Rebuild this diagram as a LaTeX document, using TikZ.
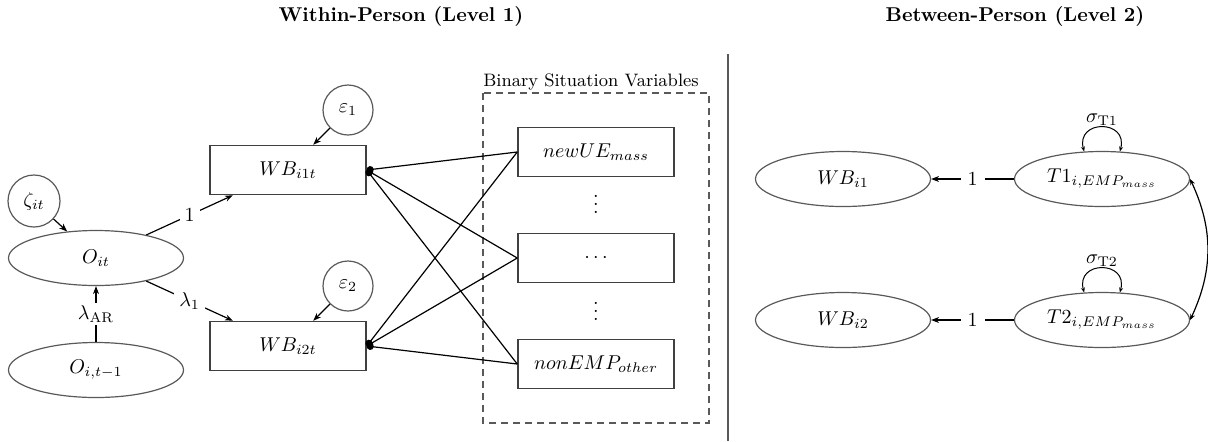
\documentclass[tikz,border=0pt]{standalone}
\usetikzlibrary{shapes.geometric, arrows.meta}
\begin{document}
\begin{tikzpicture}[x=0.5pt, y=0.5pt,
  latent/.style={ellipse, draw=black!65, line width=0.6pt, minimum width=87.5pt, minimum height=27.5pt, inner sep=0pt},
  manifest/.style={rectangle, draw=black!75, line width=0.75pt, minimum width=78pt, minimum height=24.5pt, inner sep=0pt},
  errvar/.style={circle, draw=black!65, line width=0.6pt, minimum size=25pt, inner sep=0pt},
  regpath/.style={-{Stealth[length=4pt,width=3pt]}, line width=0.6pt},
  coef/.style={fill=white, inner sep=2.5pt},
  tie/.style={-{Circle[length=3.5pt]}, line width=0.6pt},
  cov/.style={{Stealth[length=3pt,width=2.5pt]}-{Stealth[length=3pt,width=2.5pt]}, line width=0.6pt},
  selfloop/.style={{Stealth[length=2.5pt,width=2pt]}-{Stealth[length=2.5pt,width=2pt]}, line width=0.5pt},
  groupbox/.style={draw=black!65, line width=0.6pt, dash pattern=on 3.5pt off 2.5pt},
]
\useasboundingbox (0,0) rectangle (1208,-441);

% panel titles and divider
\node[font=\bfseries] (titleW) at (401,-16) {Within-Person (Level 1)};
\node[font=\bfseries] (titleB) at (1015,-16) {Between-Person (Level 2)};
\coordinate (divtop) at (728,-54);
\coordinate (divbot) at (728,-441);
\draw[black!65, line width=0.6pt] (divtop) -- (divbot);

% ---- within-person model ----
\node[errvar, minimum size=26pt] (zeta) at (34,-201) {$\zeta_{it}$};
\node[latent] (O) at (96,-258) {$O_{it}$};
\node[latent] (Olag) at (96,-370) {$O_{i,t-1}$};
\node[manifest] (WB1) at (288,-170) {$WB_{i1t}$};
\node[manifest] (WB2) at (288,-346) {$WB_{i2t}$};
\node[errvar] (e1) at (348,-110) {$\varepsilon_1$};
\node[errvar] (e2) at (348,-286) {$\varepsilon_2$};

% situation indicators
\node[font=\small, anchor=base] (binlab) at (591,-86) {Binary Situation Variables};
\draw[groupbox] (483,-93) rectangle (709,-423);
\node[manifest] (S1) at (596,-152) {$newUE_{mass}$};
\node[manifest] (S2) at (596,-258) {$\cdots$};
\node[manifest] (S3) at (596,-364) {$nonEMP_{other}$};
\node[inner sep=0pt] (d1) at (596,-198) {$\vdots$};
\node[inner sep=0pt] (d2) at (596,-305) {$\vdots$};

\draw[regpath] (zeta) -- (O);
\draw[regpath] (Olag) -- node[coef, inner sep=1.5pt] {$\lambda_{\mathrm{AR}}$} (O);
\draw[regpath] (O) -- node[coef] {$1$} (WB1);
\draw[regpath] (O) -- node[coef] {$\lambda_1$} (WB2);
\draw[regpath] (e1) -- (WB1);
\draw[regpath] (e2) -- (WB2);
\foreach \s in {S1,S2,S3} {
  \draw[tie] (\s.west) -- (WB1.east);
  \draw[tie] (\s.west) -- (WB2.east);
}

% ---- between-person model ----
\node[latent] (WBi1) at (843,-179) {$WB_{i1}$};
\node[latent] (WBi2) at (843,-320) {$WB_{i2}$};
\node[latent] (T1) at (1102,-179) {$T1_{i,EMP_{mass}}$};
\node[latent] (T2) at (1102,-320) {$T2_{i,EMP_{mass}}$};

\draw[regpath] (T1) -- node[coef, inner sep=3.5pt] {$1$} (WBi1);
\draw[regpath] (T2) -- node[coef, inner sep=3.5pt] {$1$} (WBi2);
\draw[selfloop] (T1.123) to[out=105, in=75, looseness=2.4]
  node[above, inner sep=0.5pt] {$\sigma_{\mathrm{T1}}$} (T1.57);
\draw[selfloop] (T2.123) to[out=105, in=75, looseness=2.4]
  node[above, inner sep=0.5pt] {$\sigma_{\mathrm{T2}}$} (T2.57);
\draw[cov] (T1.east) to[bend left=25] (T2.east);
\end{tikzpicture}
\end{document}
